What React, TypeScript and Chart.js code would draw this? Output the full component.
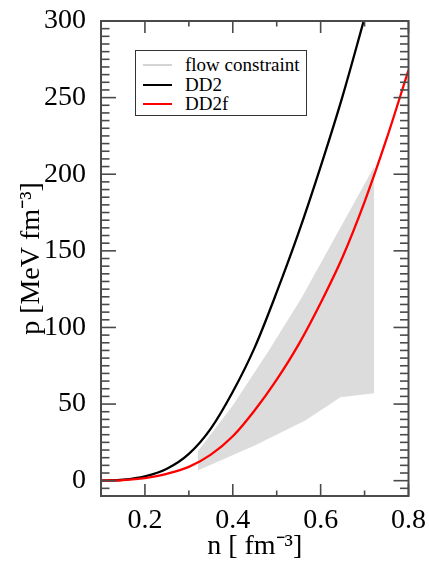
import React, { useEffect, useRef } from 'react';
import { Chart, registerables } from 'chart.js';

Chart.register(...registerables);

// ---- data ----
const densityDD2 = [0.1, 0.15, 0.2, 0.25, 0.3, 0.35, 0.4, 0.45, 0.5, 0.55, 0.6, 0.65, 0.7];
const pressureDD2 = [0, 0.6, 2.8, 7.8, 17.5, 34, 58, 87, 123, 162, 205, 251, 302];

const densityDD2f = [0.1, 0.15, 0.2, 0.25, 0.3, 0.35, 0.4, 0.45, 0.5, 0.55, 0.6, 0.65, 0.7, 0.75, 0.8];
const pressureDD2f = [0, 0.4, 1.7, 4.5, 9, 17, 29, 46, 66, 89, 116, 146, 182, 223, 268];

const flowUpperDensity = [0.32, 0.4, 0.48, 0.556, 0.722];
const flowUpperPressure = [19, 49, 84, 119, 205];
const flowLowerDensity = [0.32, 0.45, 0.566, 0.645, 0.722];
const flowLowerPressure = [6.6, 23, 39.5, 54.4, 57];

const xTickValues = [0.2, 0.4, 0.6, 0.8];
const yTickValues = [0, 50, 100, 150, 200, 250, 300];

const legendItems = [
  { label: 'flow constraint', color: '#d4d4d4' },
  { label: 'DD2', color: '#000000' },
  { label: 'DD2f', color: '#ff0000' },
];

const SERIF = 'Liberation Serif';

Chart.defaults.font.family = SERIF;

const toPoints = (xs: number[], ys: number[]) => xs.map((x, i) => ({ x, y: ys[i] }));

const frameTicks = {
  id: 'frameTicks',
  afterDatasetsDraw(chart: any) {
    const { ctx, chartArea: a, scales } = chart;
    const x = scales.x;
    const y = scales.y;
    ctx.save();
    ctx.strokeStyle = '#4a4a4a';
    ctx.lineWidth = 1.6;
    const seg = (x1: number, y1: number, x2: number, y2: number) => {
      ctx.beginPath();
      ctx.moveTo(x1, y1);
      ctx.lineTo(x2, y2);
      ctx.stroke();
    };
    for (let i = 1; i <= 8; i++) {
      const v = i / 10;
      const px = x.getPixelForValue(v);
      const major = xTickValues.some((t) => Math.abs(t - v) < 1e-9);
      const len = major ? 12 : 5.5;
      seg(px, a.bottom, px, a.bottom - len);
      seg(px, a.top, px, a.top + len);
    }
    for (let v = -5; v < 300; v += 5) {
      const py = y.getPixelForValue(v);
      const major = v % 50 === 0;
      const len = major ? 15 : 8.5;
      seg(a.left, py, a.left + len, py);
      seg(a.right, py, a.right - len, py);
    }
    ctx.lineWidth = 2;
    ctx.strokeRect(a.left, a.top, a.right - a.left, a.bottom - a.top);
    ctx.restore();
  },
};

export default function App() {
  const ref = useRef<HTMLCanvasElement>(null);

  useEffect(() => {
    if (!ref.current) return;
    let alive = true;
    const chart = new Chart(ref.current, {
      type: 'line',
      data: {
        datasets: [
          {
            label: 'DD2f',
            data: toPoints(densityDD2f, pressureDD2f),
            borderColor: '#ff0000',
            borderWidth: 2.3,
            pointRadius: 0,
            cubicInterpolationMode: 'monotone',
            fill: false,
            order: 0,
          },
          {
            label: 'DD2',
            data: toPoints(densityDD2, pressureDD2),
            borderColor: '#000000',
            borderWidth: 2.3,
            pointRadius: 0,
            cubicInterpolationMode: 'monotone',
            fill: false,
            order: 1,
          },
          {
            label: 'flow constraint',
            data: toPoints(flowUpperDensity, flowUpperPressure),
            borderColor: 'rgba(0,0,0,0)',
            backgroundColor: '#dcdcdc',
            borderWidth: 0,
            pointRadius: 0,
            tension: 0,
            fill: '+1',
            order: 2,
          },
          {
            label: 'flow constraint (lower)',
            data: toPoints(flowLowerDensity, flowLowerPressure),
            borderColor: 'rgba(0,0,0,0)',
            borderWidth: 0,
            pointRadius: 0,
            tension: 0,
            fill: false,
            order: 3,
          },
        ],
      } as any,
      options: {
        responsive: false,
        animation: false,
        devicePixelRatio: 1,
        layout: { padding: { top: 16, right: 19, left: 0, bottom: 0 } },
        plugins: {
          legend: { display: false },
          tooltip: { enabled: false },
          filler: { drawTime: 'beforeDatasetsDraw' },
        } as any,
        scales: {
          x: {
            type: 'linear',
            min: 0.1,
            max: 0.8,
            grid: { display: false },
            border: { display: false },
            afterBuildTicks: (s: any) => {
              s.ticks = xTickValues.map((v) => ({ value: v }));
            },
            afterFit: (s: any) => {
              s.height = 66;
            },
            ticks: {
              autoSkip: false,
              maxRotation: 0,
              padding: 3,
              color: '#000',
              font: { family: SERIF, size: 28, lineHeight: 1 },
              callback: (v: any) => Number(v).toFixed(1),
            },
            title: {
              display: true,
              text: 'n [ fm⁻³]',
              color: '#000',
              font: { family: SERIF, size: 28, lineHeight: 1 },
              padding: { top: 0, bottom: 1 },
            },
          },
          y: {
            type: 'linear',
            min: -10,
            max: 300,
            grid: { display: false },
            border: { display: false },
            afterBuildTicks: (s: any) => {
              s.ticks = yTickValues.map((v) => ({ value: v }));
            },
            afterFit: (s: any) => {
              s.width = 101;
            },
            ticks: {
              autoSkip: false,
              padding: 7,
              color: '#000',
              font: { family: SERIF, size: 28, lineHeight: 1 },
              callback: (v: any) => String(v),
            },
            title: {
              display: true,
              text: 'p [MeV fm⁻³]',
              color: '#000',
              font: { family: SERIF, size: 28, lineHeight: 1 },
              padding: { top: 18, bottom: 0 },
            },
          },
        },
      } as any,
      plugins: [frameTicks],
    });
    const fonts: any = (document as any).fonts;
    if (fonts && fonts.load) {
      fonts
        .load("28px 'Liberation Serif'")
        .then(() => {
          if (alive) chart.update();
        })
        .catch(() => {});
    }
    return () => {
      alive = false;
      chart.destroy();
    };
  }, []);

  return (
    <div style={{ position: 'absolute', left: 0, top: 0, width: 429, height: 562, background: '#fff' }}>
      <canvas ref={ref} width={429} height={562} style={{ display: 'block' }} />
      <div
        style={{
          position: 'absolute',
          left: 135,
          top: 50,
          width: 172,
          height: 66,
          border: '1.5px solid #333',
          background: '#fff',
          boxSizing: 'border-box',
        }}
      >
        {legendItems.map((it, i) => (
          <div key={it.label}>
            <div
              style={{
                position: 'absolute',
                left: 7,
                top: 14 + i * 19.5 - 1,
                width: 29,
                height: 2.4,
                background: it.color,
              }}
            />
            <div
              style={{
                position: 'absolute',
                left: 49,
                top: 14 + i * 19.5 - 11,
                height: 22,
                lineHeight: '22px',
                fontFamily: "'Liberation Serif', serif",
                fontSize: 19,
                color: '#000',
                whiteSpace: 'nowrap',
              }}
            >
              {it.label}
            </div>
          </div>
        ))}
      </div>
    </div>
  );
}
